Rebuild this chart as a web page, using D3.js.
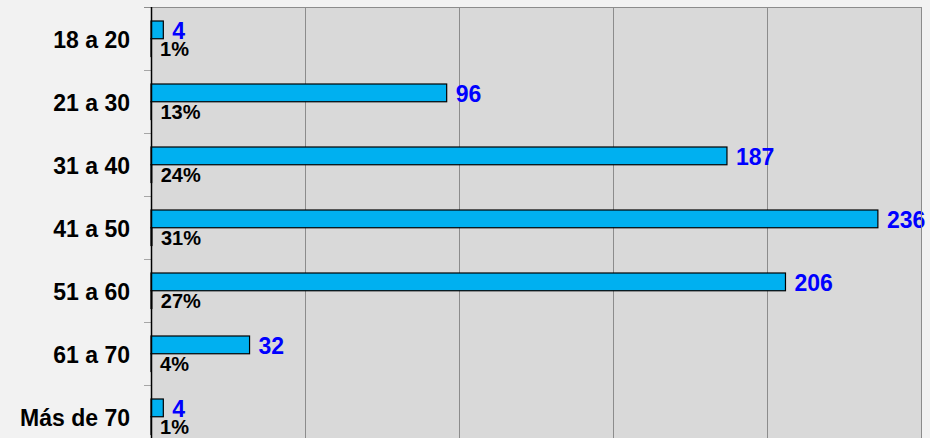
<!DOCTYPE html>
<html>
<head>
<meta charset="utf-8">
<script src="https://cdn.jsdelivr.net/npm/d3@7"></script>
<style>
  html, body { margin: 0; padding: 0; background: #f2f2f2; overflow: hidden; }
  text { font-family: "Liberation Sans", Arial, sans-serif; font-weight: bold; }
</style>
</head>
<body>
<div id="chart"></div>
<script>
var categories = ["18 a 20", "21 a 30", "31 a 40", "41 a 50", "51 a 60", "61 a 70", "Más de 70"];
var counts = [4, 96, 187, 236, 206, 32, 4];
var percents = [0.01, 0.13, 0.24, 0.31, 0.27, 0.04, 0.01];
var xTicks = [0, 50, 100, 150, 200, 250];

var w = 930,
    h = 460;

var svg = d3.select("#chart").append("svg")
    .attr("width", w)
    .attr("height", h);

var plotLeft = 151, plotRight = 921, plotTop = 7, band = 63;

var x = d3.scaleLinear()
    .domain([0, 250])
    .range([plotLeft, plotRight]);

var y = d3.scaleBand()
    .domain(categories)
    .range([plotTop, plotTop + band * categories.length]);

var ySeries = d3.scaleBand()
    .domain(["count", "pct"])
    .range([14, 49.5]);

// plot background
svg.append("rect")
    .attr("x", plotLeft)
    .attr("y", plotTop)
    .attr("width", plotRight - plotLeft)
    .attr("height", h - plotTop)
    .style("fill", "#d9d9d9");

// vertical gridlines
svg.selectAll("line.grid")
    .data(xTicks.slice(1))
    .enter()
    .append("line")
    .attr("class", "grid")
    .attr("x1", function (d) { return Math.round(x(d)) + 0.5; })
    .attr("x2", function (d) { return Math.round(x(d)) + 0.5; })
    .attr("y1", plotTop)
    .attr("y2", h)
    .style("stroke", "#8c8c8c")
    .style("stroke-width", 1);

// top border
svg.append("line")
    .attr("x1", 144)
    .attr("x2", plotRight + 1)
    .attr("y1", plotTop + 0.5)
    .attr("y2", plotTop + 0.5)
    .style("stroke", "#8c8c8c");

// left category ticks
var boundaries = categories.map(function (c) { return y(c) + band; });
svg.selectAll("line.ytick")
    .data(boundaries)
    .enter()
    .append("line")
    .attr("class", "ytick")
    .attr("x1", 144)
    .attr("x2", plotLeft)
    .attr("y1", function (d) { return Math.round(d) + 0.5; })
    .attr("y2", function (d) { return Math.round(d) + 0.5; })
    .style("stroke", "#a6a6a6");

// category labels
svg.selectAll("text.cat")
    .data(categories)
    .enter()
    .append("text")
    .attr("class", "cat")
    .attr("x", 130)
    .attr("y", function (d) { return y(d) + band / 2 + 1; })
    .attr("text-anchor", "end")
    .attr("dominant-baseline", "central")
    .style("font-size", "23px")
    .style("fill", "#000")
    .text(function (d) { return d; });

var rows = categories.map(function (c, i) {
    return { cat: c, count: counts[i], pct: percents[i] };
});

// count bars
svg.selectAll("rect.count")
    .data(rows)
    .enter()
    .append("rect")
    .attr("class", "count")
    .attr("x", x(0))
    .attr("y", function (d) { return y(d.cat) + ySeries("count"); })
    .attr("width", function (d) { return x(d.count) - x(0); })
    .attr("height", ySeries.bandwidth())
    .style("fill", "#00b0f0")
    .style("stroke", "#000")
    .style("stroke-width", 1.2);

// percent bars (tiny on this scale)
svg.selectAll("rect.pct")
    .data(rows)
    .enter()
    .append("rect")
    .attr("class", "pct")
    .attr("x", x(0))
    .attr("y", function (d) { return y(d.cat) + ySeries("pct"); })
    .attr("width", function (d) { return x(d.pct) - x(0); })
    .attr("height", ySeries.bandwidth())
    .style("fill", "#7f7f7f")
    .style("stroke", "#000")
    .style("stroke-width", 1.2);

// count labels
svg.selectAll("text.countLabel")
    .data(rows)
    .enter()
    .append("text")
    .attr("class", "countLabel")
    .attr("x", function (d) { return x(d.count) + 9; })
    .attr("y", function (d) { return y(d.cat) + ySeries("count") + ySeries.bandwidth() / 2 + 1; })
    .attr("dominant-baseline", "central")
    .style("font-size", "23px")
    .style("fill", "#0000ff")
    .text(function (d) { return d.count; });

// percent labels
svg.selectAll("text.pctLabel")
    .data(rows)
    .enter()
    .append("text")
    .attr("class", "pctLabel")
    .attr("x", function (d) { return x(d.pct) + 9; })
    .attr("y", function (d) { return y(d.cat) + ySeries("pct") + ySeries.bandwidth() / 2 + 1; })
    .attr("dominant-baseline", "central")
    .style("font-size", "20px")
    .style("fill", "#000")
    .text(function (d) { return Math.round(d.pct * 100) + "%"; });

// left axis line and right border
svg.append("line")
    .attr("x1", plotLeft + 0.5)
    .attr("x2", plotLeft + 0.5)
    .attr("y1", plotTop)
    .attr("y2", h)
    .style("stroke", "#000")
    .style("stroke-width", 1.5);

svg.append("line")
    .attr("x1", plotRight + 0.5)
    .attr("x2", plotRight + 0.5)
    .attr("y1", plotTop)
    .attr("y2", h)
    .style("stroke", "#8c8c8c");
</script>
</body>
</html>
